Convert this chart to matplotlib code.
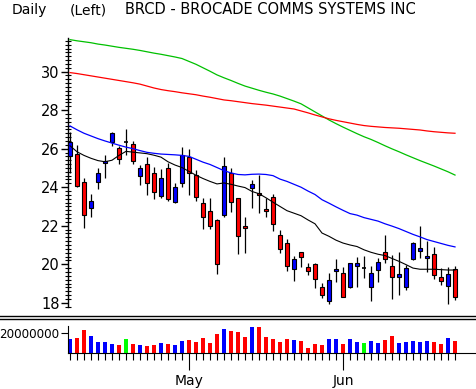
import numpy as np
import matplotlib
matplotlib.use("Agg")
import matplotlib.pyplot as plt
from matplotlib.lines import Line2D

# daily bars (Apr - Jun)
opens = [25.62, 25.72, 24.25, 22.90, 24.29, 25.24, 26.33, 26.05, 26.35, 26.23,
         24.60, 25.21, 24.72, 23.56, 24.98, 23.25, 24.20, 25.55, 24.63, 23.19,
         22.76, 22.30, 22.56, 24.72, 23.42, 21.98, 23.94, 23.72, 22.85, 23.51,
         21.52, 21.09, 19.74, 20.65, 19.84, 20.01, 18.83, 18.10, 19.66, 19.56,
         18.83, 19.92, 19.79, 18.83, 19.70, 20.62, 19.90, 19.35, 18.83, 20.26,
         20.69, 20.31, 20.53, 19.32, 18.88, 19.74]
highs = [26.88, 26.19, 24.46, 23.65, 24.98, 25.67, 26.85, 26.14, 27.02, 26.42,
         25.15, 25.58, 25.06, 24.93, 25.24, 24.20, 26.07, 25.97, 24.89, 23.42,
         23.42, 22.35, 25.58, 24.98, 23.42, 22.44, 24.37, 24.63, 23.45, 23.65,
         21.78, 21.31, 20.43, 20.65, 20.05, 20.05, 19.01, 19.53, 20.27, 19.84,
         20.08, 20.39, 20.43, 19.90, 20.31, 21.52, 20.48, 20.65, 19.95, 21.15,
         21.98, 21.22, 20.91, 19.79, 19.87, 19.90]
lows = [24.72, 24.03, 21.86, 22.47, 23.91, 24.46, 26.15, 25.19, 25.67, 25.19,
        24.11, 23.59, 23.39, 23.42, 23.30, 23.16, 23.99, 23.59, 23.30, 21.81,
        21.81, 19.49, 22.47, 22.73, 20.51, 20.56, 22.90, 22.66, 22.47, 21.74,
        20.56, 19.66, 19.14, 19.84, 19.44, 18.75, 18.23, 17.94, 19.09, 18.28,
        18.75, 18.83, 19.27, 18.10, 19.09, 20.05, 18.19, 18.40, 18.66, 20.20,
        20.31, 19.61, 19.22, 18.92, 17.94, 18.13]
closes = [26.36, 24.08, 22.57, 23.28, 24.75, 25.38, 26.80, 25.45, 26.35, 25.38,
          24.98, 24.20, 23.77, 24.46, 23.39, 23.99, 25.67, 24.72, 23.51, 22.47,
          21.98, 20.01, 25.10, 23.21, 21.48, 21.86, 24.17, 23.61, 22.78, 22.09,
          20.77, 19.93, 20.26, 20.36, 19.66, 19.22, 18.40, 19.18, 19.75, 18.31,
          20.05, 20.08, 19.79, 19.56, 20.10, 20.26, 19.35, 19.49, 19.79, 21.09,
          20.82, 20.43, 19.44, 19.14, 19.49, 18.31]
# volume in millions of shares
volume = [13.8, 14.8, 23.1, 16.9, 11.0, 11.0, 9.0, 7.6, 13.8, 9.0,
          7.6, 6.6, 7.6, 10.0, 9.0, 7.6, 11.7, 12.8, 10.7, 14.8,
          10.0, 19.0, 24.1, 22.1, 21.0, 15.9, 26.2, 26.2, 15.9, 13.8,
          10.7, 13.8, 12.8, 11.7, 5.5, 8.6, 7.6, 13.8, 13.8, 8.6,
          13.8, 10.7, 9.7, 11.7, 9.7, 12.8, 16.9, 9.7, 10.7, 11.7,
          10.7, 11.7, 10.7, 8.6, 14.8, 11.7]

# moving averages as drawn on the chart
ma_green = [31.66, 31.60, 31.55, 31.50, 31.43, 31.38, 31.32, 31.26, 31.21, 31.16,
            31.10, 31.03, 30.96, 30.90, 30.83, 30.76, 30.68, 30.53, 30.38, 30.20,
            30.02, 29.83, 29.68, 29.54, 29.39, 29.25, 29.14, 29.03, 28.93, 28.84,
            28.73, 28.60, 28.47, 28.33, 28.12, 27.91, 27.70, 27.49, 27.30, 27.12,
            26.95, 26.78, 26.62, 26.48, 26.32, 26.15, 25.99, 25.84, 25.68, 25.53,
            25.38, 25.24, 25.10, 24.95, 24.80, 24.63]
ma_red = [29.95, 29.90, 29.84, 29.78, 29.72, 29.66, 29.60, 29.54, 29.48, 29.42,
          29.35, 29.25, 29.15, 29.07, 29.01, 28.96, 28.90, 28.85, 28.80, 28.73,
          28.67, 28.60, 28.53, 28.49, 28.44, 28.39, 28.34, 28.30, 28.26, 28.21,
          28.16, 28.11, 28.06, 27.96, 27.86, 27.75, 27.65, 27.55, 27.47, 27.40,
          27.33, 27.26, 27.20, 27.16, 27.13, 27.10, 27.08, 27.06, 27.03, 27.00,
          26.97, 26.92, 26.88, 26.85, 26.82, 26.80]
ma_blue = [27.18, 26.98, 26.80, 26.66, 26.52, 26.40, 26.29, 26.18, 26.08, 26.00,
           25.90, 25.81, 25.76, 25.72, 25.70, 25.68, 25.65, 25.60, 25.45, 25.30,
           25.18, 25.02, 24.86, 24.74, 24.66, 24.64, 24.67, 24.68, 24.66, 24.60,
           24.42, 24.30, 24.15, 24.00, 23.80, 23.62, 23.35, 23.17, 22.98, 22.80,
           22.63, 22.55, 22.42, 22.33, 22.24, 22.10, 21.98, 21.85, 21.70, 21.55,
           21.42, 21.28, 21.18, 21.08, 20.98, 20.90]
ma_black = [26.15, 25.84, 25.65, 25.50, 25.38, 25.32, 25.40, 25.65, 25.86, 25.82,
            25.78, 25.74, 25.66, 25.56, 25.32, 25.15, 25.02, 24.82, 24.62, 24.45,
            24.30, 24.17, 24.22, 24.15, 24.06, 23.98, 23.78, 23.66, 23.45, 23.22,
            23.00, 22.78, 22.65, 22.52, 22.30, 22.10, 21.62, 21.45, 21.25, 21.10,
            21.00, 20.92, 20.75, 20.62, 20.52, 20.45, 20.30, 20.15, 19.98, 19.80,
            19.74, 19.74, 19.74, 19.72, 19.70, 19.70]

month_pos = [17, 39]
month_labels = ['May', 'Jun']
price_ticks = [18, 20, 22, 24, 26, 28, 30]

W, H = 476, 389


def px_box(left, top, w, h):
    return [left / W, 1 - (top + h) / H, w / W, h / H]


fig = plt.figure(figsize=(W / 100, H / 100), dpi=100)
fig.patch.set_facecolor('white')

o = np.array(opens)
c = np.array(closes)
idx = np.arange(len(o))
up = c > o
down = c < o
flat = c == o

xlim = (-2 / 7, (W - 70) / 7)

# ---- price panel
ax = fig.add_axes(px_box(68, 38.3, 408, 268.7))
ax.set_xlim(*xlim)
ax.set_ylim(17.78, 31.73)
for s in ['top', 'right', 'bottom']:
    ax.spines[s].set_visible(False)
ax.spines['left'].set_linewidth(1)

ax.vlines(idx, lows, highs, color='black', lw=0.9, zorder=2)
body_lo = np.minimum(o, c)
body_h = np.abs(c - o)
ax.bar(idx[up], body_h[up], bottom=body_lo[up], width=0.62, color='#0000ff',
       edgecolor='black', lw=0.8, zorder=3)
ax.bar(idx[down], body_h[down], bottom=body_lo[down], width=0.62, color='#ff0000',
       edgecolor='black', lw=0.8, zorder=3)
ax.hlines(c[flat], idx[flat] - 0.35, idx[flat] + 0.35, color='black', lw=1.2, zorder=3)

ax.plot(idx, ma_green, color='#00c000', lw=0.9, zorder=4)
ax.plot(idx, ma_red, color='#ff0000', lw=0.9, zorder=4)
ax.plot(idx, ma_blue, color='#0000ff', lw=0.9, zorder=4)
ax.plot(idx, ma_black, color='black', lw=0.8, zorder=4)

ax.set_xticks([])
ax.set_yticks(price_ticks)
ax.set_yticks(np.arange(17.8, 31.75, 0.2), minor=True)
ax.tick_params(axis='y', which='major', direction='out', length=5, width=1,
               labelsize=10.5, pad=1)
ax.tick_params(axis='y', which='minor', direction='inout', length=4, width=0.8)

# ---- volume panel
vx = fig.add_axes(px_box(68, 326, 408, 27))
vx.set_xlim(*xlim)
vx.set_ylim(0, 27e6)
for s in ['top', 'right']:
    vx.spines[s].set_visible(False)
vols = np.array(volume) * 1e6
vcol = np.where(up, '#0000ff', np.where(down, '#ff0000', '#00ff00'))
vx.bar(idx, vols, width=0.64, color=vcol, edgecolor='none')
vx.set_yticks([20e6])
vx.set_yticklabels(['20000000'])
vx.tick_params(axis='y', direction='out', length=5, labelsize=8.6, pad=1)
vx.set_xticks(month_pos)
vx.set_xticklabels(month_labels)
vx.set_xticks(idx, minor=True)
vx.tick_params(axis='x', which='major', direction='out', length=12, labelsize=10, pad=3)
vx.tick_params(axis='x', which='minor', direction='out', length=5, width=0.8)

# separator double line between panels
for yy in (316, 318.5):
    fig.add_artist(Line2D([0, 1], [1 - yy / H, 1 - yy / H], color='black', lw=1,
                          transform=fig.transFigure))

# header text
fig.text(12 / W, 1 - 10 / H, 'Daily', fontsize=10, va='center', ha='left')
fig.text(70 / W, 1 - 10 / H, '(Left)', fontsize=10, va='center', ha='left')
fig.text(125 / W, 1 - 10 / H, 'BRCD - BROCADE COMMS SYSTEMS INC', fontsize=10.5,
         va='center', ha='left')

fig.savefig('out.png', dpi=100)
